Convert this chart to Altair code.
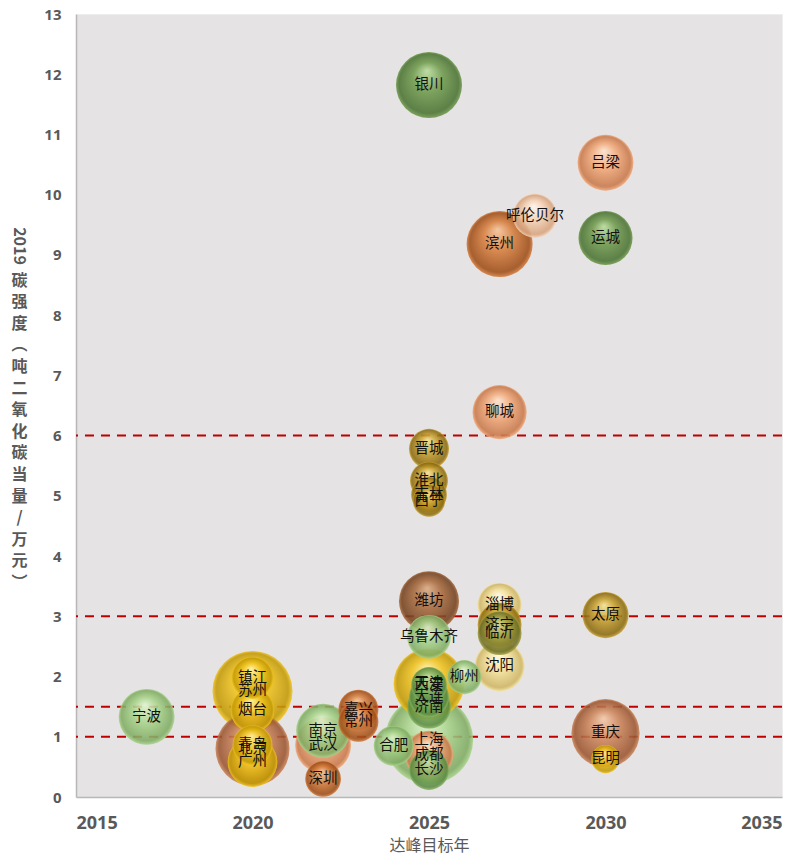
import altair as alt
import pandas as pd

# City peak-target year vs. 2019 carbon intensity (t CO2e per 10k yuan)
names = ["宁波", "苏州", "镇江", "烟台", "北京", "青岛", "广州",
         "南京", "武汉", "深圳", "嘉兴", "常州", "合肥",
         "上海", "成都", "长沙", "天津", "西安", "大连", "济南",
         "乌鲁木齐", "潍坊", "晋城", "淮北", "吉林", "西宁", "银川",
         "柳州", "淄博", "济宁", "临沂", "沈阳", "聊城", "滨州",
         "呼伦贝尔", "吕梁", "运城", "太原", "重庆", "昆明"]
years = [2017, 2020, 2020, 2020, 2020, 2020, 2020,
         2022, 2022, 2022, 2023, 2023, 2024,
         2025, 2025, 2025, 2025, 2025, 2025, 2025,
         2025, 2025, 2025, 2025, 2025, 2025, 2025,
         2026, 2027, 2027, 2027, 2027, 2027, 2027,
         2028, 2030, 2030, 2030, 2030, 2030]
intensity = [1.33, 1.76, 1.98, 1.44, 0.80, 0.86, 0.58,
             1.10, 0.86, 0.30, 1.45, 1.25, 0.85,
             0.95, 0.70, 0.45, 1.88, 1.86, 1.66, 1.50,
             2.66, 3.25, 5.78, 5.25, 5.02, 4.92, 11.82,
             1.99, 3.19, 2.86, 2.72, 2.17, 6.39, 9.18,
             9.65, 10.53, 9.28, 3.02, 1.06, 0.63]
# bubble magnitude (area-proportional)
magnitude = [7.8, 16.0, 4.4, 4.8, 13.7, 4.0, 6.2,
             7.3, 7.8, 3.2, 4.0, 4.0, 4.0,
             19.5, 5.8, 4.0, 12.5, 3.2, 4.0, 4.8,
             4.8, 9.0, 4.0, 3.6, 3.2, 2.6, 10.9,
             2.9, 4.8, 4.8, 4.8, 6.2, 7.3, 10.9,
             4.8, 7.8, 7.3, 5.3, 11.6, 2.0]
tone = ["ltgreen", "yellow", "yellow", "yellow", "copper", "yellow", "yellow",
        "ltgreen", "peach", "orange", "orange", "orange", "ltgreen",
        "ltgreen", "peach", "green", "yellow", "green", "green", "green",
        "ltgreen", "brown", "gold", "gold", "gold", "gold", "dkgreen",
        "ltgreen", "ltyellow", "gold", "olive", "ltyellow", "peach", "orange",
        "ltpeach", "peach", "dkgreen", "gold", "copper", "yellow"]

palette = {
    "dkgreen": ("#b9dc9c", "#6f9a4c", "#4a7232"),
    "green": ("#c8e6b0", "#86b466", "#5a8a40"),
    "ltgreen": ("#e2f5d2", "#a9d48b", "#80ab63"),
    "orange": ("#f7c49a", "#d67d3c", "#9e4d17"),
    "copper": ("#f4c8a8", "#cc845a", "#9a5530"),
    "peach": ("#fde4ce", "#f2a97a", "#c8784a"),
    "ltpeach": ("#fff7f0", "#f6d3b6", "#d6a37e"),
    "yellow": ("#fff4a6", "#f1c420", "#c29906"),
    "gold": ("#f6e292", "#c9a12e", "#8a6a10"),
    "ltyellow": ("#fffce4", "#f4e29a", "#cfb564"),
    "brown": ("#dcaa82", "#a86a3c", "#73411f"),
    "olive": ("#dcdc96", "#a3a244", "#6d6d24"),
}

thresholds = [6, 3, 1.5, 1]
x_ticks = [2015, 2020, 2025, 2030, 2035]
y_ticks = list(range(0, 14))

df = pd.DataFrame({"城市": names, "年份": years, "强度": intensity,
                   "规模": magnitude, "色调": tone})


def sphere(key):
    hi, mid, lo = palette[key]
    return {
        "gradient": "radial",
        "x1": 0.47, "y1": 0.28, "r1": 0.0,
        "x2": 0.5, "y2": 0.5, "r2": 0.5,
        "stops": [
            {"offset": 0.0, "color": hi},
            {"offset": 0.45, "color": mid},
            {"offset": 0.9, "color": lo},
            {"offset": 1.0, "color": mid},
        ],
    }


x_enc = alt.X("年份:Q",
              scale=alt.Scale(domain=[2015, 2035], nice=False, zero=False),
              axis=alt.Axis(values=x_ticks, format="d", grid=False, ticks=False,
                            tickSize=0, labelPadding=17, labelFontSize=18,
                            labelFontWeight="bold", labelColor="#595959",
                            domainColor="#b8b8b8", domainWidth=1.5,
                            title="达峰目标年", titleFontSize=16,
                            titleFontWeight="normal", titleColor="#595959",
                            titleY=48, titleBaseline="middle"))
y_title = ["碳", "强", "度", "︵", "吨", "二", "氧", "化", "碳", "当", "量",
           "/", "万", "元", "︶"]
y_enc = alt.Y("强度:Q",
              scale=alt.Scale(domain=[0, 13], nice=False),
              axis=alt.Axis(values=y_ticks, format="d", grid=False, ticks=False,
                            tickSize=0, labelPadding=15, labelFontSize=15,
                            labelFontWeight="bold", labelColor="#595959",
                            domainColor="#b8b8b8", domainWidth=1.5,
                            title=y_title, titleAngle=0, titleX=-57, titleY=258,
                            titleAlign="center", titleBaseline="top",
                            titleLineHeight=21.6, titleFontSize=16,
                            titleFontWeight="bold", titleColor="#595959"))
size_enc = alt.Size("规模:Q", scale=alt.Scale(domain=[0, 25], range=[0, 10000]),
                    legend=None)

layers = []
for _, row in df.sort_values("规模", ascending=False).iterrows():
    layers.append(
        alt.Chart()
        .transform_filter(alt.datum["城市"] == row["城市"])
        .mark_point(shape="circle", filled=True, fill=sphere(row["色调"]),
                    opacity=0.88, strokeWidth=0)
        .encode(x=x_enc, y=y_enc, size=size_enc)
    )

rules = (
    alt.Chart(pd.DataFrame({"阈值": thresholds}))
    .mark_rule(color="#c00000", strokeWidth=2, strokeDash=[9, 7])
    .encode(y=alt.Y("阈值:Q", scale=alt.Scale(domain=[0, 13], nice=False)))
)

labels = (
    alt.Chart()
    .mark_text(fontSize=14.5, color="#111111", font="Noto Sans CJK SC")
    .encode(x=x_enc, y=y_enc, text="城市:N")
)

year_title = (
    alt.Chart(pd.DataFrame({"t": ["2019"]}))
    .mark_text(angle=90, fontSize=16, fontWeight="bold", color="#595959",
               font="Noto Sans CJK SC")
    .encode(x=alt.value(-57), y=alt.value(232), text="t:N")
)

bubbles = alt.layer(*layers, labels, data=df)

chart = (
    alt.layer(rules, bubbles, year_title)
    .properties(width=706, height=783,
                autosize=alt.AutoSizeParams(type="none"),
                padding={"left": 76, "top": 14, "right": 23, "bottom": 59})
    .configure_view(fill="#e5e3e4", stroke="#eeeeee")
    .configure_axis(labelFont="Open Sans", titleFont="Noto Sans CJK SC")
)

chart.save("out.html", embed_options={"renderer": "svg", "actions": False})
